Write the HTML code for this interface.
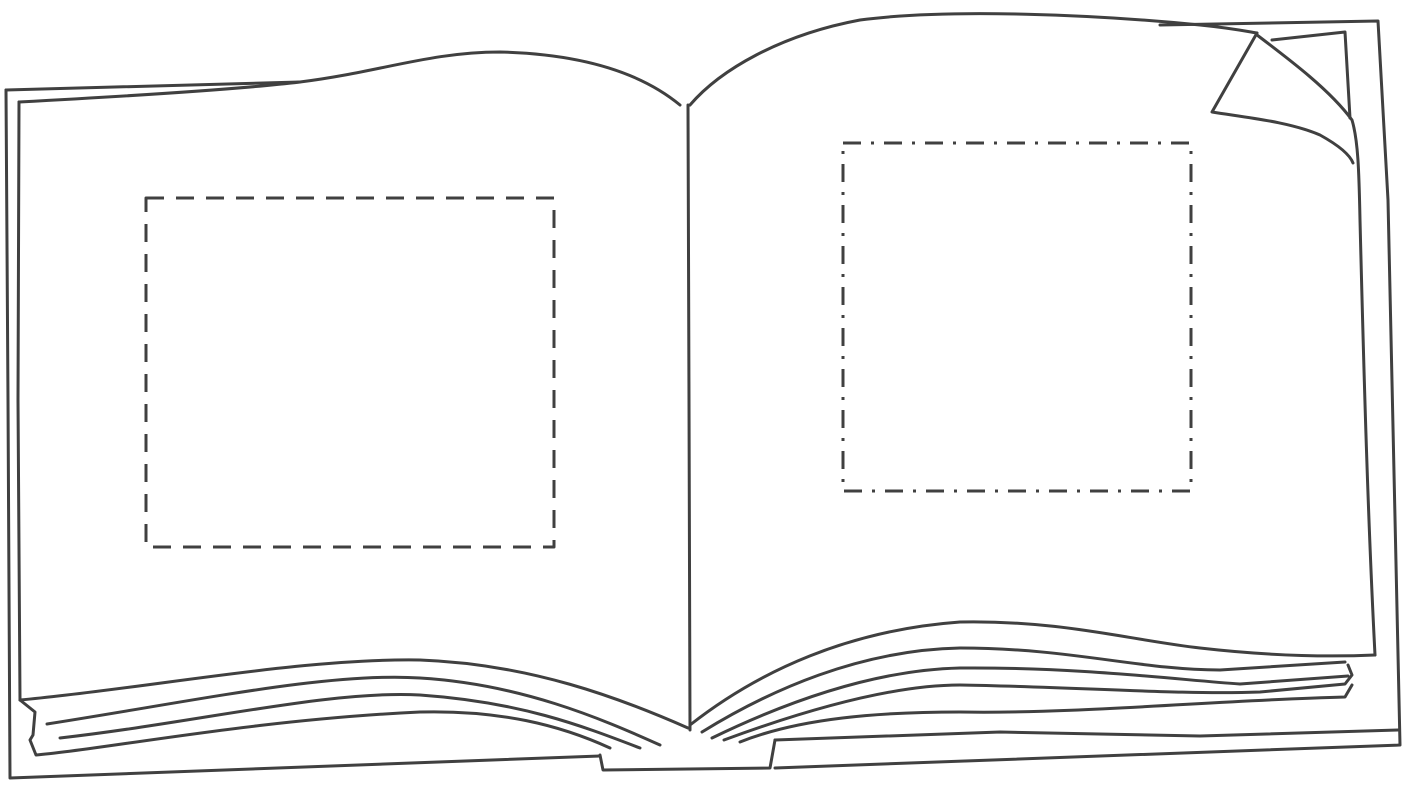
<!DOCTYPE html>
<html><head><meta charset="utf-8"><style>
html,body{margin:0;padding:0;background:#fff;}
svg{display:block;}
</style></head><body>
<svg width="1420" height="793" viewBox="0 0 1420 793" fill="none" stroke="#404040" stroke-width="3" stroke-linecap="round" stroke-linejoin="round">
<g>
<path d="M6,90 L300,82"/>
<path d="M6,90 L8,400 L10,778 L600,756"/>
<path d="M775,740 L1000,732 L1200,736 L1398,730"/>
<path d="M1160,25 L1378,21 L1388,200 L1400,745 L775,768"/>
<path d="M19,102 L18,400 L20,700"/>
<path d="M1272,40 L1345,32 L1350,118"/>
</g>
<g>
<path d="M19,102 C150,95 250,88 300,82 C380,72 430,52 500,52 C580,54 640,72 680,105"/>
<path d="M20,700 C150,688 300,658 420,660 C530,664 620,698 688,728"/>
<path d="M47,724 C200,700 330,672 420,678 C520,684 600,718 660,745"/>
<path d="M60,738 C200,722 330,690 420,695 C520,702 580,725 640,748"/>
<path d="M20,700 L35,712 L33,735 L30,740 L36,755 C100,750 250,720 420,712 C500,710 560,725 610,748"/>
<path d="M600,755 L603,770 L770,768 L775,740"/>
</g>
<path d="M688,105 L689,400 L690,730"/>
<g>
<path d="M690,105 C720,70 780,35 860,20 C950,8 1100,15 1200,25 C1230,28 1245,31 1257,33"/>
<path d="M1257,33 L1212,112 C1250,118 1290,122 1320,135 C1338,145 1350,155 1353,163"/>
<path d="M1257,35 C1290,60 1330,90 1352,120 C1358,140 1359,170 1360,220 C1364,380 1368,520 1375,655"/>
<path d="M690,725 C760,670 850,630 960,622 C1060,620 1130,640 1200,648 C1270,656 1330,657 1375,655"/>
<path d="M702,732 C770,690 860,650 960,648 C1070,648 1140,670 1220,670 L1345,662"/>
<path d="M712,738 C780,705 870,670 960,668 C1080,667 1180,680 1240,684 L1348,676"/>
<path d="M724,740 C800,712 890,685 960,685 C1080,687 1180,695 1260,692 L1345,684 L1352,675 L1348,665"/>
<path d="M740,742 C800,718 880,712 960,712 C1080,714 1220,700 1345,697 L1352,685"/>
</g>
<rect x="146" y="198" width="408" height="349" stroke-dasharray="18,12" stroke-linecap="butt"/>
<rect x="843" y="143" width="348" height="348" stroke-dasharray="18,10,3,10" stroke-linecap="butt"/>
</svg>
</body></html>
